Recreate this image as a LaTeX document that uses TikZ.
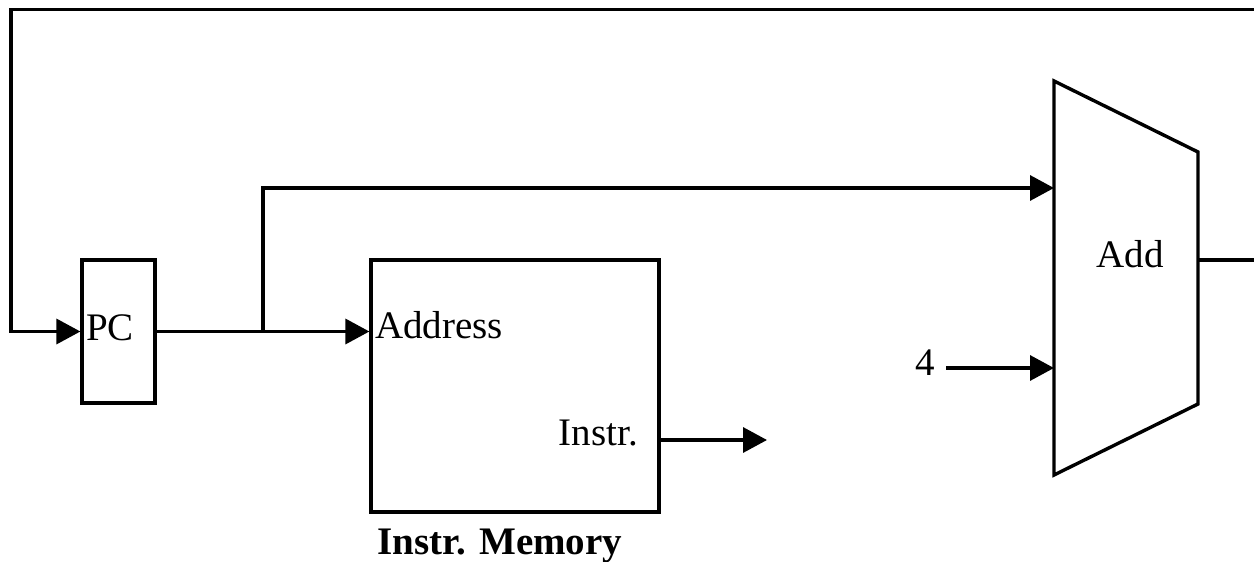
\documentclass[tikz,border=0pt]{standalone}
\usepackage{fontspec}
\setmainfont{Liberation Serif}
\usetikzlibrary{arrows.meta}
\begin{document}
\begin{tikzpicture}[x=1pt,y=-1pt,
  wire/.style={line width=3.4pt},
  sig/.style={wire,-{Triangle[length=24pt,width=25pt]}},
  block/.style={draw,line width=3.2pt,rectangle,inner sep=0pt},
  lbl/.style={inner sep=0pt,font=\fontsize{39}{44}\selectfont},
]
\useasboundingbox (0,0) rectangle (1254,562);
\clip (0,0) rectangle (1254,562);

% program counter and instruction memory
\node[block,minimum width=73pt,minimum height=143pt] (PC) at (118.5,331.5) {};
\node[lbl,anchor=base west] (pclbl) at (86,340) {PC};
\node[block,minimum width=288pt,minimum height=252pt] (imem) at (515,386) {};
\node[lbl,anchor=base west] (addr) at (375,338) {Address};
\node[lbl,anchor=base east] (instr) at (638,445) {Instr.};
\node[lbl,anchor=base,font=\fontsize{39}{44}\selectfont\bfseries] (imemname) at (500,554) {Instr. Memory};

% adder
\draw[line width=3.4pt,line join=miter]
  (1054,81) -- (1198,152) -- (1198,404) -- (1054,475) -- cycle;
\coordinate (in1) at (1054,188);
\coordinate (in2) at (1054,368);
\coordinate (aout) at (1198,260);
\node[lbl,anchor=base] (addlbl) at (1130,267) {Add};
\node[lbl,anchor=base,inner xsep=11.5pt] (four) at (925,375) {4};

% datapath wiring
\coordinate (j) at (263,331.5);
\coordinate (iout) at (767,440);
\draw[sig] (PC.east) -- (PC.east -| imem.west);
\draw[sig] (j) |- (in1);
\draw[sig] (four.east |- in2) -- (in2);
\draw[sig] (imem.east |- iout) -- (iout);
\draw[sig] (aout) -- ++(80,0) |- (11,9.5) |- (PC.west);
\end{tikzpicture}
\end{document}
